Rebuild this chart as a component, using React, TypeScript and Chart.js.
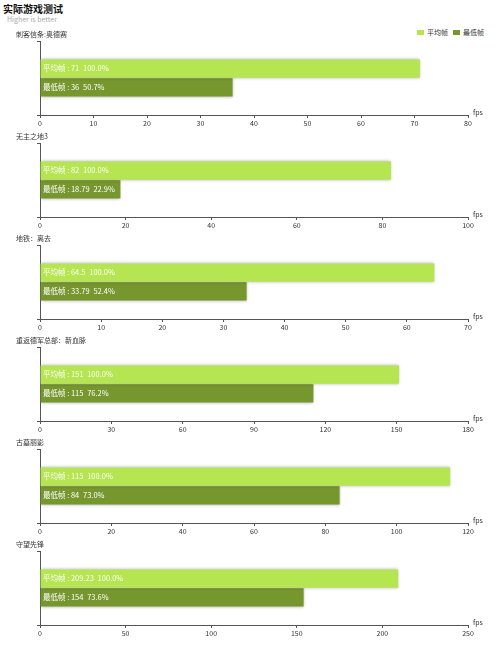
import { useEffect, useRef } from "react";
import { Chart, registerables } from "chart.js";

Chart.register(...registerables);

const games = ["刺客信条:奥德赛", "无主之地3", "地铁：离去", "重返德军总部：新血脉", "古墓丽影", "守望先锋"];
const avgFps = [71, 82, 64.5, 151, 115, 209.23];
const minFps = [36, 18.79, 33.79, 115, 84, 154];
const axisMax = [80, 100, 70, 180, 120, 250];
const axisStep = [10, 20, 10, 30, 20, 50];

const seriesNames = ["平均帧", "最低帧"];
const seriesColors = ["#b5e550", "#76962e"];

const FONT = "'Noto Sans CJK SC', 'Noto Sans', sans-serif";

const textPlugin = {
  id: "gameText",
  beforeDatasetsDraw(chart: Chart) {
    const ctx = chart.ctx;
    ctx.save();
    ctx.shadowColor = "rgba(0,0,0,0.3)";
    ctx.shadowBlur = 3;
  },
  afterDatasetsDraw(chart: Chart, _args: any, opts: any) {
    const ctx = chart.ctx;
    ctx.restore();
    const area = chart.chartArea;
    ctx.save();
    ctx.font = `7.5px ${FONT}`;
    ctx.textBaseline = "middle";
    ctx.fillStyle = "#ffffff";
    const avg = opts.avg as number;
    chart.data.datasets.forEach((ds, di) => {
      const bar: any = chart.getDatasetMeta(di).data[0];
      const v = ds.data[0] as number;
      const pct = ((v / avg) * 100).toFixed(1);
      ctx.fillText(`${seriesNames[di]} : ${v}\u2002${pct}%`, area.left + 3, bar.y);
    });
    ctx.fillStyle = "#333";
    ctx.font = `7px ${FONT}`;
    ctx.textBaseline = "alphabetic";
    ctx.fillText("fps", area.right + 5, area.bottom);
    ctx.fillText(opts.title, 16, area.top - 4);
    ctx.restore();
  },
};

function GameChart({ index }: { index: number }) {
  const ref = useRef<HTMLCanvasElement>(null);
  const inst = useRef<Chart | null>(null);

  useEffect(() => {
    if (!ref.current) return;
    if (inst.current) inst.current.destroy();
    const ctx = ref.current.getContext("2d");
    if (!ctx) return;

    inst.current = new Chart(ctx, {
      type: "bar",
      data: {
        labels: [games[index]],
        datasets: [
          {
            label: seriesNames[0],
            data: [avgFps[index]],
            backgroundColor: seriesColors[0],
            categoryPercentage: 0.51,
            barPercentage: 0.97,
          },
          {
            label: seriesNames[1],
            data: [minFps[index]],
            backgroundColor: seriesColors[1],
            categoryPercentage: 0.51,
            barPercentage: 0.97,
          },
        ],
      },
      options: {
        indexAxis: "y",
        animation: false,
        responsive: true,
        maintainAspectRatio: false,
        layout: { padding: { top: 13, right: 32, left: 0, bottom: 0 } },
        scales: {
          x: {
            min: 0,
            max: axisMax[index],
            ticks: {
              stepSize: axisStep[index],
              color: "#333",
              font: { family: FONT, size: 7 },
              padding: 1,
              maxRotation: 0,
            },
            grid: { drawOnChartArea: false, tickLength: 3, color: "#555" },
            border: { color: "#555" },
            afterFit: (s: any) => {
              s.height = 15;
            },
          },
          y: {
            ticks: { display: false },
            grid: { drawOnChartArea: false, tickLength: 3, color: "#555" },
            border: { color: "#555" },
            afterFit: (s: any) => {
              s.width = 40;
            },
          },
        },
        plugins: {
          legend: { display: false },
          tooltip: { enabled: false },
          gameText: { title: games[index], avg: avgFps[index] },
        } as any,
      },
      plugins: [textPlugin],
    });

    return () => {
      if (inst.current) {
        inst.current.destroy();
        inst.current = null;
      }
    };
  }, [index]);

  return (
    <div style={{ position: "absolute", left: 0, top: 28 + index * 102, width: 500, height: 102 }}>
      <canvas ref={ref} />
    </div>
  );
}

export default function App() {
  return (
    <div
      style={{
        position: "absolute",
        left: 0,
        top: 0,
        width: 500,
        height: 659,
        background: "#fff",
        fontFamily: FONT,
        overflow: "hidden",
      }}
    >
      <div style={{ position: "absolute", left: 3, top: 1, fontSize: 10, fontWeight: "bold", color: "#111" }}>
        实际游戏测试
      </div>
      <div style={{ position: "absolute", left: 7, top: 14, fontSize: 7, color: "#aaa" }}>Higher is better</div>
      <div style={{ position: "absolute", left: 417, top: 27, fontSize: 7, color: "#333", display: "flex", alignItems: "center" }}>
        {seriesNames.map((n, i) => (
          <span key={n} style={{ display: "flex", alignItems: "center", marginRight: 5 }}>
            <span style={{ width: 7, height: 5, background: seriesColors[i], marginRight: 3, display: "inline-block" }} />
            {n}
          </span>
        ))}
      </div>
      {games.map((_, i) => (
        <GameChart key={i} index={i} />
      ))}
    </div>
  );
}
